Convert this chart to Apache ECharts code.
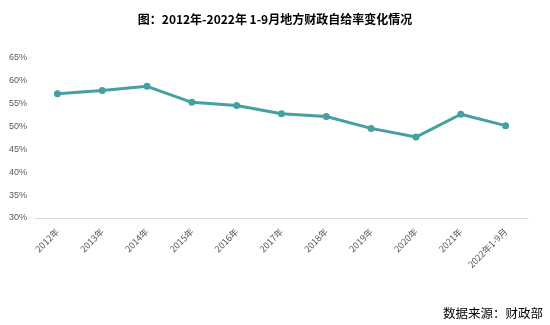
<!DOCTYPE html>
<html><head><meta charset="utf-8">
<script src="https://cdn.jsdelivr.net/npm/echarts@6/dist/echarts.min.js"></script>
<style>html,body{margin:0;padding:0;background:#fff}#c{width:550px;height:325px}</style>
</head><body><div id="c"></div>
<script>
const categories = ['2012年','2013年','2014年','2015年','2016年','2017年','2018年','2019年','2020年','2021年','2022年1-9月'];
const values = [57.2, 57.9, 58.8, 55.3, 54.6, 52.8, 52.2, 49.6, 47.7, 52.7, 50.2];
const yTicks = [30, 35, 40, 45, 50, 55, 60, 65];
const titleText = '图：2012年-2022年 1-9月地方财政自给率变化情况';
const sourceText = '数据来源：财政部';

const chart = echarts.init(document.getElementById('c'));
chart.setOption({
  animation: false,
  title: {
    text: titleText, left: 'center', top: 8,
    textStyle: {fontFamily: 'Noto Sans CJK SC', fontSize: 12, fontWeight: 'bold', color: '#000'}
  },
  graphic: [{
    type: 'text', right: 7, bottom: 5,
    style: {text: sourceText, font: '12.5px "Noto Sans CJK SC"', fill: '#000'}
  }],
  grid: {left: 35, right: 22, top: 58, bottom: 107, containLabel: false},
  xAxis: {
    type: 'category', data: categories, boundaryGap: true,
    axisLine: {lineStyle: {color: '#d9d9d9'}},
    axisTick: {show: false},
    axisLabel: {rotate: 45, interval: 0, color: '#595959', fontSize: 9, fontFamily: 'Noto Sans CJK SC', margin: 12}
  },
  yAxis: {
    type: 'value', min: yTicks[0], max: yTicks[yTicks.length-1], interval: 5,
    axisLine: {show: false}, axisTick: {show: false}, splitLine: {show: false},
    axisLabel: {formatter: '{value}%', color: '#595959', fontSize: 9, fontFamily: 'Liberation Sans', margin: 8}
  },
  series: [{
    type: 'line', data: values,
    lineStyle: {color: '#46a0a3', width: 3},
    itemStyle: {color: '#46a0a3'},
    symbol: 'circle', symbolSize: 7
  }]
});
</script></body></html>
